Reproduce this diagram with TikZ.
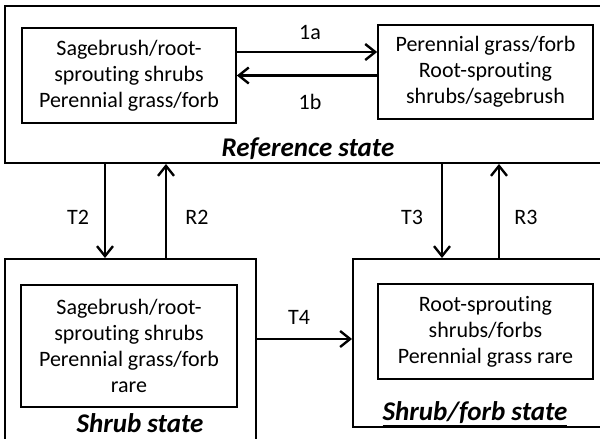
\documentclass[tikz,border=0pt]{standalone}
\usepackage{fontspec}
\setmainfont{Carlito}[Ligatures={NoCommon}]
\usetikzlibrary{arrows.meta}
\tikzset{
  statebox/.style={draw, line width=1.9pt, minimum width=#1, inner sep=0pt},
  compbox/.style={draw, line width=1.7pt, align=center, inner sep=0pt,
    font=\fontsize{22}{26}\selectfont},
  trans/.style={line width=2.6pt, -{Straight Barb[length=10pt,width=16pt,line width=2.4pt]}},
  lbl/.style={font=\fontsize{22}{26}\selectfont, inner sep=0pt},
  statename/.style={font=\fontsize{27}{31}\selectfont\bfseries\itshape, inner sep=0pt}
}
\begin{document}
\begin{tikzpicture}[x=1pt, y=-1pt]
\useasboundingbox (0,0) rectangle (600,439);

% state boxes
\node[statebox=598pt, minimum height=157pt] (ref) at (304,84.5) {};
\node[statebox=251pt, minimum height=186pt] (shrub) at (130.5,352) {};
\node[statebox=250pt, minimum height=168pt] (sf) at (478,343) {};

% community phases
\node[compbox, minimum width=214pt, minimum height=95pt] (refL) at (129,75.5)
  {Sagebrush/root-\\sprouting shrubs\\Perennial grass/forb};
\node[compbox, minimum width=215pt, minimum height=94pt] (refR) at (485.5,72)
  {Perennial grass/forb\\Root-sprouting\\shrubs/sagebrush};
\node[compbox, minimum width=216pt, minimum height=122pt] (shrubI) at (129,346)
  {Sagebrush/root-\\sprouting shrubs\\Perennial grass/forb\\rare};
\node[compbox, minimum width=215pt, minimum height=95pt] (sfI) at (485.5,331.5)
  {Root-sprouting\\shrubs/forbs\\Perennial grass rare};

% state names
\node[statename] (refname) at (308,149) {Reference state};
\node[statename] (shrubname) at (140,423) {Shrub state};
\node[statename] (sfname) at (475,414) {\underline{Shrub/forb state}};

% pathways within the reference state
\draw[trans] ([yshift=23.5pt]refL.east) -- ([yshift=23.5pt]refL.east -| refR.west);
\draw[trans] (refL.east -| refR.west) -- (refL.east);
\node[lbl] (l1a) at (310,33) {1a};
\node[lbl] (l1b) at (310,102) {1b};

% transitions and restorations
\draw[trans] ([xshift=-25.5pt]shrub.north |- ref.south) -- ([xshift=-25.5pt]shrub.north);
\draw[trans] ([xshift=35.5pt]shrub.north) -- ([xshift=35.5pt]shrub.north |- ref.south);
\draw[trans] ([xshift=-36pt]sf.north |- ref.south) -- ([xshift=-36pt]sf.north);
\draw[trans] ([xshift=21pt]sf.north) -- ([xshift=21pt]sf.north |- ref.south);
\draw[trans] ([yshift=13pt]shrub.east) -- ([yshift=13pt]shrub.east -| sf.west);

\node[lbl] (lT2) at (78,217) {T2};
\node[lbl] (lR2) at (197,217) {R2};
\node[lbl] (lT3) at (412,217) {T3};
\node[lbl] (lR3) at (526,217) {R3};
\node[lbl] (lT4) at (299,317) {T4};
\end{tikzpicture}
\end{document}
